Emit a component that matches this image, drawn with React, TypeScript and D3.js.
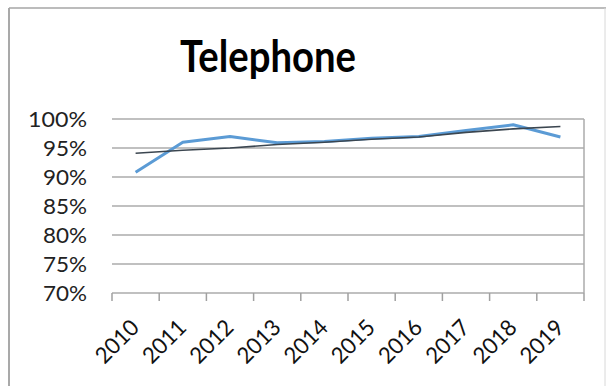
import React from "react";
import * as d3 from "d3";

const years = ["2010", "2011", "2012", "2013", "2014", "2015", "2016", "2017", "2018", "2019"];
const telephone = [90.8, 96.0, 97.0, 95.9, 96.1, 96.7, 97.0, 98.0, 99.0, 96.9];
const trend = [94.1, 94.6, 95.0, 95.6, 96.0, 96.5, 96.9, 97.7, 98.3, 98.7];
const yTicks = [70, 75, 80, 85, 90, 95, 100];

const W = 606;
const H = 386;
const plot = { left: 112, right: 584, top: 119, bottom: 293 };
const FONT = "Lato, 'Open Sans', sans-serif";

export default function App() {
  const x = d3.scaleBand<string>().domain(years).range([plot.left, plot.right]).padding(0);
  const y = d3.scaleLinear().domain([70, 100]).range([plot.bottom, plot.top]);
  const cx = (d: string) => (x(d) as number) + x.bandwidth() / 2;

  const line = d3
    .line<number>()
    .x((_, i) => cx(years[i]))
    .y((v) => y(v));

  const tickXs = years.map((d) => x(d) as number).concat([plot.right]);

  return (
    <svg
      width={W}
      height={H}
      style={{ position: "absolute", left: 0, top: 0, background: "#fff" }}
    >
      <rect x={0} y={0} width={W} height={H} fill="#fff" />
      {/* outer frame */}
      <line x1={9} y1={8} x2={9} y2={H} stroke="#8c8c8c" strokeWidth={1.5} />
      <line x1={9} y1={8} x2={W} y2={8} stroke="#a6a6a6" strokeWidth={1.5} />
      <line x1={605} y1={8} x2={605} y2={H} stroke="#d8d8d8" strokeWidth={1} />

      {/* title */}
      <text
        x={268}
        y={72}
        textAnchor="middle"
        fontFamily={FONT}
        fontWeight="bold"
        fontSize={43}
        textLength={176}
        lengthAdjust="spacingAndGlyphs"
        fill="#000"
      >
        Telephone
      </text>

      {/* gridlines */}
      {yTicks.map((t) => (
        <line
          key={t}
          x1={plot.left}
          x2={plot.right}
          y1={y(t)}
          y2={y(t)}
          stroke="#ababab"
          strokeWidth={1.5}
        />
      ))}
      {/* right border of plot */}
      <line x1={plot.right} x2={plot.right} y1={plot.top} y2={plot.bottom} stroke="#ababab" strokeWidth={1.5} />

      {/* x ticks */}
      {tickXs.map((tx, i) => (
        <line key={i} x1={tx} x2={tx} y1={plot.bottom} y2={plot.bottom + 8} stroke="#a0a0a0" strokeWidth={1.5} />
      ))}

      {/* y labels */}
      {yTicks.map((t) => (
        <text
          key={t}
          x={87}
          y={y(t) + 7.5}
          textAnchor="end"
          fontFamily={FONT}
          fontSize={21.5}
          fill="#222"
          textLength={t === 100 ? 59 : 44}
          lengthAdjust="spacingAndGlyphs"
        >
          {t}%
        </text>
      ))}

      {/* x labels */}
      {years.map((d) => (
        <text
          key={d}
          transform={`translate(${cx(d) + 5},${plot.bottom + 36}) rotate(-45)`}
          textAnchor="end"
          fontFamily={FONT}
          fontSize={22.5}
          fill="#111"
          textLength={51}
          lengthAdjust="spacingAndGlyphs"
        >
          {d}
        </text>
      ))}

      {/* series */}
      <path d={line(telephone) || ""} fill="none" stroke="#5b9bd5" strokeWidth={3} strokeLinejoin="round" />
      <path d={line(trend) || ""} fill="none" stroke="#3b4650" strokeWidth={1.6} strokeLinejoin="round" />
    </svg>
  );
}
